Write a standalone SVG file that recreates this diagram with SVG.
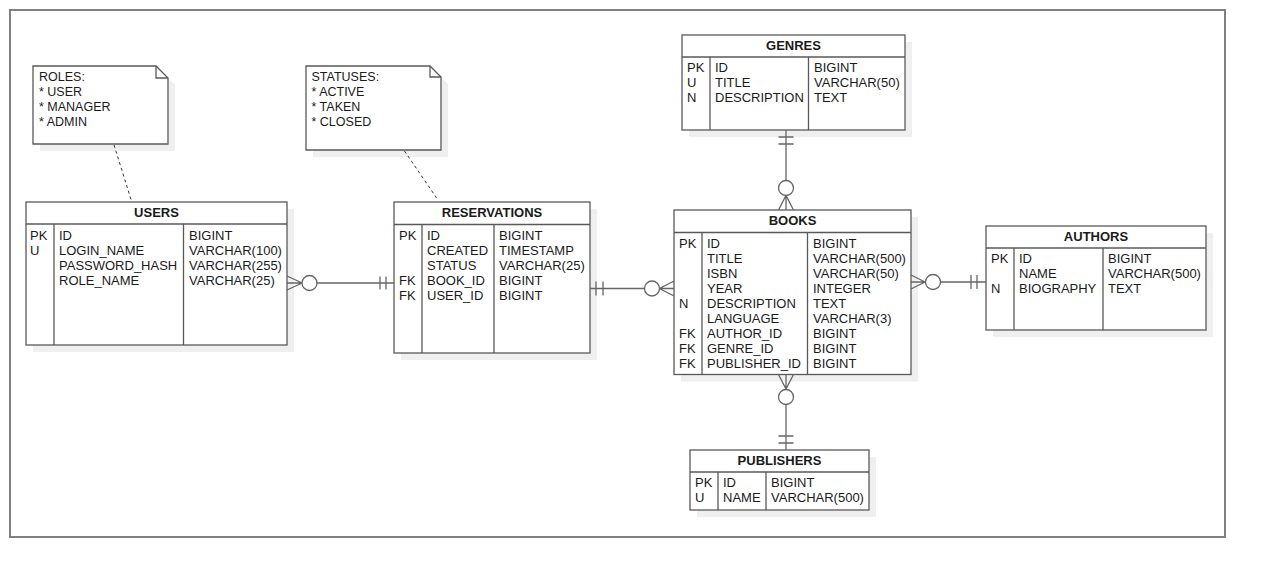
<svg xmlns="http://www.w3.org/2000/svg" width="1265" height="577" viewBox="0 0 1265 577">
<style>
text{font-family:"Liberation Sans",Arial,Helvetica,sans-serif;font-size:13px;fill:#1a1a1a}
.h{font-weight:bold;text-anchor:middle}
.n{font-size:12.5px}
.box{fill:#fff;stroke:#595959;stroke-width:1.3}
.sh{fill:#efefef;stroke:none}
.ln{fill:none;stroke:#595959;stroke-width:1.3}
.cn{fill:none;stroke:#666;stroke-width:1.3}
.ci{fill:#fff;stroke:#666;stroke-width:1.3}
.ds{fill:none;stroke:#333;stroke-width:1;stroke-dasharray:3 3}
</style>
<rect x="0" y="0" width="1265" height="577" fill="#fff"/>
<rect x="10" y="10" width="1215" height="527" fill="none" stroke="#808080" stroke-width="2"/>

<g id="note-roles">
<path class="sh" d="M40,73 H163 L175,85 V151 H40 Z"/>
<path class="box" d="M33,66 H156 L168,78 V144 H33 Z"/>
<path class="ln" d="M156,66 V78 H168"/>
<text class="n" x="39" y="81">ROLES:</text>
<text class="n" x="39" y="96">* USER</text>
<text class="n" x="39" y="111">* MANAGER</text>
<text class="n" x="39" y="126">* ADMIN</text>
</g>

<g id="note-statuses">
<path class="sh" d="M313,73 H437 L448,84 V157 H313 Z"/>
<path class="box" d="M306,66 H430 L441,77 V150 H306 Z"/>
<path class="ln" d="M430,66 V77 H441"/>
<text class="n" x="311.5" y="81">STATUSES:</text>
<text class="n" x="311.5" y="96">* ACTIVE</text>
<text class="n" x="311.5" y="111">* TAKEN</text>
<text class="n" x="311.5" y="126">* CLOSED</text>
</g>

<g id="users">
<rect class="sh" x="33" y="209" width="261" height="143"/>
<rect class="box" x="26" y="202" width="261" height="143"/>
<path class="ln" d="M26,224 H287 M54,224 V345 M183.5,224 V345"/>
<text class="h" x="156.5" y="217">USERS</text>
<text x="30" y="240">PK</text>
<text x="30" y="255">U</text>
<text x="59" y="240">ID</text>
<text x="59" y="255">LOGIN_NAME</text>
<text x="59" y="270">PASSWORD_HASH</text>
<text x="59" y="285">ROLE_NAME</text>
<text x="189" y="240">BIGINT</text>
<text x="189" y="255">VARCHAR(100)</text>
<text x="189" y="270">VARCHAR(255)</text>
<text x="189" y="285">VARCHAR(25)</text>
</g>

<g id="reservations">
<rect class="sh" x="401" y="209" width="196" height="151"/>
<rect class="box" x="394" y="202" width="196" height="151"/>
<path class="ln" d="M394,224.5 H590 M422,224.5 V353 M494,224.5 V353"/>
<text class="h" x="492" y="217">RESERVATIONS</text>
<text x="399" y="240">PK</text>
<text x="399" y="285">FK</text>
<text x="399" y="300">FK</text>
<text x="427" y="240">ID</text>
<text x="427" y="255">CREATED</text>
<text x="427" y="270">STATUS</text>
<text x="427" y="285">BOOK_ID</text>
<text x="427" y="300">USER_ID</text>
<text x="499" y="240">BIGINT</text>
<text x="499" y="255">TIMESTAMP</text>
<text x="499" y="270">VARCHAR(25)</text>
<text x="499" y="285">BIGINT</text>
<text x="499" y="300">BIGINT</text>
</g>

<g id="books">
<rect class="sh" x="681" y="217" width="237" height="164.5"/>
<rect class="box" x="674" y="210" width="237" height="164.5"/>
<path class="ln" d="M674,232.5 H911 M702,232.5 V374.5 M807.5,232.5 V374.5"/>
<text class="h" x="792.5" y="225">BOOKS</text>
<text x="679" y="247.5">PK</text>
<text x="679" y="307.5">N</text>
<text x="679" y="337.5">FK</text>
<text x="679" y="352.5">FK</text>
<text x="679" y="367.5">FK</text>
<text x="707" y="247.5">ID</text>
<text x="707" y="262.5">TITLE</text>
<text x="707" y="277.5">ISBN</text>
<text x="707" y="292.5">YEAR</text>
<text x="707" y="307.5">DESCRIPTION</text>
<text x="707" y="322.5">LANGUAGE</text>
<text x="707" y="337.5">AUTHOR_ID</text>
<text x="707" y="352.5">GENRE_ID</text>
<text x="707" y="367.5">PUBLISHER_ID</text>
<text x="813" y="247.5">BIGINT</text>
<text x="813" y="262.5">VARCHAR(500)</text>
<text x="813" y="277.5">VARCHAR(50)</text>
<text x="813" y="292.5">INTEGER</text>
<text x="813" y="307.5">TEXT</text>
<text x="813" y="322.5">VARCHAR(3)</text>
<text x="813" y="337.5">BIGINT</text>
<text x="813" y="352.5">BIGINT</text>
<text x="813" y="367.5">BIGINT</text>
</g>

<g id="genres">
<rect class="sh" x="689" y="42" width="223" height="95"/>
<rect class="box" x="682" y="35" width="223" height="95"/>
<path class="ln" d="M682,57 H905 M710,57 V130 M808.5,57 V130"/>
<text class="h" x="793.5" y="50">GENRES</text>
<text x="687" y="71.5">PK</text>
<text x="687" y="86.5">U</text>
<text x="687" y="101.5">N</text>
<text x="715" y="71.5">ID</text>
<text x="715" y="86.5">TITLE</text>
<text x="715" y="101.5">DESCRIPTION</text>
<text x="814" y="71.5">BIGINT</text>
<text x="814" y="86.5">VARCHAR(50)</text>
<text x="814" y="101.5">TEXT</text>
</g>

<g id="authors">
<rect class="sh" x="993" y="233" width="220" height="104"/>
<rect class="box" x="986" y="226" width="220" height="104"/>
<path class="ln" d="M986,248 H1206 M1014,248 V330 M1103,248 V330"/>
<text class="h" x="1096" y="240.5">AUTHORS</text>
<text x="991" y="263">PK</text>
<text x="991" y="293">N</text>
<text x="1019" y="263">ID</text>
<text x="1019" y="278">NAME</text>
<text x="1019" y="293">BIOGRAPHY</text>
<text x="1108" y="263">BIGINT</text>
<text x="1108" y="278">VARCHAR(500)</text>
<text x="1108" y="293">TEXT</text>
</g>

<g id="publishers">
<rect class="sh" x="697" y="457" width="179" height="60"/>
<rect class="box" x="690" y="450" width="179" height="60"/>
<path class="ln" d="M690,472 H869 M718,472 V510 M766,472 V510"/>
<text class="h" x="779.5" y="465">PUBLISHERS</text>
<text x="695" y="487">PK</text>
<text x="695" y="502">U</text>
<text x="723" y="487">ID</text>
<text x="723" y="502">NAME</text>
<text x="771" y="487">BIGINT</text>
<text x="771" y="502">VARCHAR(500)</text>
</g>

<g id="connectors">
<path class="ds" d="M114,145 L131.5,201"/>
<path class="ds" d="M404.5,151 L438,200"/>

<path class="cn" d="M287,283 H394 M287,276 L302,283 L287,290 M380,276.5 V289.5 M386,276.5 V289.5"/>
<circle class="ci" cx="309.5" cy="283" r="7.5"/>

<path class="cn" d="M590,288.5 H674 M674,281 L659.5,288.5 L674,296 M596,281.5 V295.5 M603,281.5 V295.5"/>
<circle class="ci" cx="652" cy="288.5" r="7.5"/>

<path class="cn" d="M911,282 H986 M911,275 L925,282 L911,289 M971,275 V289 M977,275 V289"/>
<circle class="ci" cx="933" cy="282" r="7.5"/>

<path class="cn" d="M786,130 V210 M778.5,210 L786,195.5 L793.5,210 M778.5,137 H793.5 M778.5,144 H793.5"/>
<circle class="ci" cx="786" cy="188" r="7.5"/>

<path class="cn" d="M786,374.5 V450 M778.5,374.5 L786,389 L793.5,374.5 M778.5,436 H793.5 M778.5,443 H793.5"/>
<circle class="ci" cx="786" cy="397" r="7.5"/>
</g>
</svg>
